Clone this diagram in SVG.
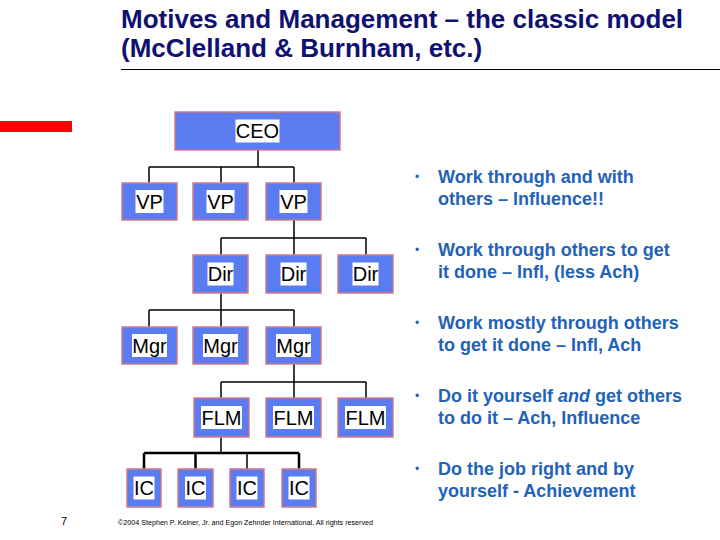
<svg xmlns="http://www.w3.org/2000/svg" width="720" height="540" viewBox="0 0 720 540">
<style>
.title{font-family:"Liberation Sans",Arial,sans-serif;font-weight:bold;font-size:26px;fill:#101070}
.box{fill:#5a7cf0;stroke:#d07a88;stroke-width:1.5}
.lblbg{fill:#ffffff}
.lbl{font-family:"Liberation Sans",Arial,sans-serif;font-size:20px;fill:#000;text-anchor:middle}
.conn{stroke:#000;stroke-width:1.5;fill:none}
.thick{stroke-width:2.5}
.bul{font-family:"Liberation Sans",Arial,sans-serif;font-weight:bold;font-size:18px;fill:#2262b8}
.dot{font-family:"Liberation Sans",Arial,sans-serif;font-size:12px;fill:#2262b8}
.foot{font-family:"Liberation Sans",Arial,sans-serif;fill:#000}
</style>
<rect width="720" height="540" fill="#ffffff"/>
<g id="title">
<text class="title" x="121" y="28">Motives and Management – the classic model</text>
<text class="title" x="121" y="57">(McClelland &amp; Burnham, etc.)</text>
<line x1="121" y1="69.5" x2="720" y2="69.5" stroke="#000" stroke-width="1"/>
</g>
<rect x="0" y="121" width="72" height="11" fill="#ff0000"/>
<g id="connectors">
<path class="conn" d="M258 150V167M149 167H294M149 167V183M221 167V183M294 167V183"/>
<path class="conn" d="M294 220V255M221 238H366M221 238V255M366 238V255"/>
<path class="conn" d="M221 293V327M149 310H294M149 310V327M294 310V327"/>
<path class="conn" d="M294 364V398M221 382H366M221 382V398M366 382V398"/>
<path class="conn" d="M221 437V453"/>
<path class="conn thick" d="M144 453H299M144 453V469M195.5 453V469M299 453V469"/>
<path class="conn" d="M247 453V469"/>
</g>
<g id="ceo"><rect class="box" x="175" y="112" width="165" height="38"/><rect class="lblbg" x="235.5" y="119.5" width="44" height="23"/><text class="lbl" x="257.5" y="138">CEO</text></g>
<g id="vp1"><rect class="box" x="122" y="183" width="55" height="37"/><rect class="lblbg" x="135.5" y="190" width="28" height="23"/><text class="lbl" x="149.5" y="208.5">VP</text></g>
<g id="vp2"><rect class="box" x="193" y="183" width="55" height="37"/><rect class="lblbg" x="206.5" y="190" width="28" height="23"/><text class="lbl" x="220.5" y="208.5">VP</text></g>
<g id="vp3"><rect class="box" x="266" y="183" width="55" height="37"/><rect class="lblbg" x="279.5" y="190" width="28" height="23"/><text class="lbl" x="293.5" y="208.5">VP</text></g>
<g id="dir1"><rect class="box" x="193" y="255" width="55" height="38"/><rect class="lblbg" x="207.5" y="262.5" width="26" height="23"/><text class="lbl" x="220.5" y="281">Dir</text></g>
<g id="dir2"><rect class="box" x="266" y="255" width="55" height="38"/><rect class="lblbg" x="280.5" y="262.5" width="26" height="23"/><text class="lbl" x="293.5" y="281">Dir</text></g>
<g id="dir3"><rect class="box" x="338" y="255" width="55" height="38"/><rect class="lblbg" x="352.5" y="262.5" width="26" height="23"/><text class="lbl" x="365.5" y="281">Dir</text></g>
<g id="mgr1"><rect class="box" x="122" y="327" width="55" height="37"/><rect class="lblbg" x="132" y="334" width="35" height="23"/><text class="lbl" x="149.5" y="352.5">Mgr</text></g>
<g id="mgr2"><rect class="box" x="193" y="327" width="55" height="37"/><rect class="lblbg" x="203" y="334" width="35" height="23"/><text class="lbl" x="220.5" y="352.5">Mgr</text></g>
<g id="mgr3"><rect class="box" x="266" y="327" width="55" height="37"/><rect class="lblbg" x="276" y="334" width="35" height="23"/><text class="lbl" x="293.5" y="352.5">Mgr</text></g>
<g id="flm1"><rect class="box" x="194" y="398" width="55" height="39"/><rect class="lblbg" x="201" y="406" width="41" height="23"/><text class="lbl" x="221.5" y="424.5">FLM</text></g>
<g id="flm2"><rect class="box" x="266" y="398" width="55" height="39"/><rect class="lblbg" x="273" y="406" width="41" height="23"/><text class="lbl" x="293.5" y="424.5">FLM</text></g>
<g id="flm3"><rect class="box" x="338" y="398" width="55" height="39"/><rect class="lblbg" x="345" y="406" width="41" height="23"/><text class="lbl" x="365.5" y="424.5">FLM</text></g>
<g id="ic1"><rect class="box" x="127" y="469" width="34" height="38"/><rect class="lblbg" x="133.5" y="476.5" width="21" height="23"/><text class="lbl" x="144" y="495">IC</text></g>
<g id="ic2"><rect class="box" x="178" y="469" width="35" height="38"/><rect class="lblbg" x="185" y="476.5" width="21" height="23"/><text class="lbl" x="195.5" y="495">IC</text></g>
<g id="ic3"><rect class="box" x="230" y="469" width="34" height="38"/><rect class="lblbg" x="236.5" y="476.5" width="21" height="23"/><text class="lbl" x="247" y="495">IC</text></g>
<g id="ic4"><rect class="box" x="282" y="469" width="34" height="38"/><rect class="lblbg" x="288.5" y="476.5" width="21" height="23"/><text class="lbl" x="299" y="495">IC</text></g>
<g id="bullets">
<text class="dot" x="415" y="181">•</text>
<text class="bul" x="438" y="183">Work through and with</text>
<text class="bul" x="438" y="204.5">others – Influence!!</text>
<text class="dot" x="415" y="254">•</text>
<text class="bul" x="438" y="256">Work through others to get</text>
<text class="bul" x="438" y="277.5">it done – Infl, (less Ach)</text>
<text class="dot" x="415" y="327">•</text>
<text class="bul" x="438" y="329">Work mostly through others</text>
<text class="bul" x="438" y="350.5">to get it done – Infl, Ach</text>
<text class="dot" x="415" y="400">•</text>
<text class="bul" x="438" y="402">Do it yourself <tspan font-style="italic">and</tspan> get others</text>
<text class="bul" x="438" y="423.5">to do it – Ach, Influence</text>
<text class="dot" x="415" y="473">•</text>
<text class="bul" x="438" y="475">Do the job right and by</text>
<text class="bul" x="438" y="496.5">yourself - Achievement</text>
</g>
<g id="footer">
<text class="foot" x="61" y="525" font-size="11">7</text>
<text class="foot" x="118" y="525" font-size="6.5" textLength="255" lengthAdjust="spacingAndGlyphs">©2004 Stephen P. Kelner, Jr. and Egon Zehnder International. All rights reserved</text>
</g>
</svg>
